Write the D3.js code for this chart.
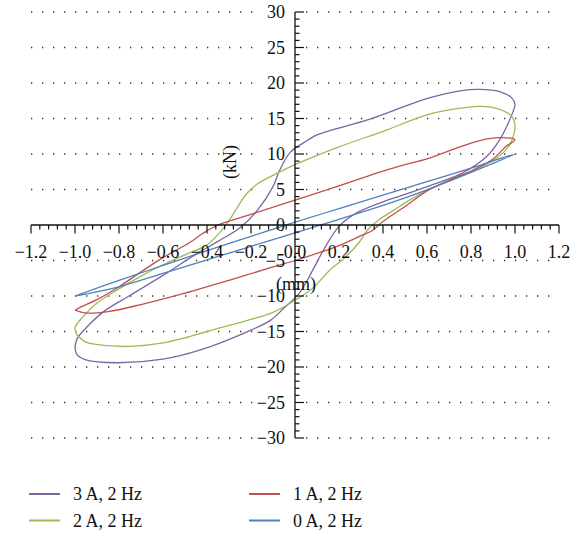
<!DOCTYPE html>
<html><head><meta charset="utf-8">
<script src="https://cdn.jsdelivr.net/npm/d3@7"></script>
<style>body{margin:0;background:#fff}svg{display:block}text{font-family:"Liberation Serif","DejaVu Serif",serif;fill:#111}</style>
</head><body><svg id="c" width="572" height="535"></svg>
<script>
// ---- data (displacement mm, force kN) ----
const seriesNames = ["3 A, 2 Hz", "2 A, 2 Hz", "1 A, 2 Hz", "0 A, 2 Hz"];
const seriesColors = ["#8064a2", "#9bbb59", "#c0504d", "#4f81bd"];
const loop3A = [[-1.0,-17.2],[-0.99,-16],[-0.95,-14.5],[-0.87,-12.2],[-0.76,-10.1],[-0.6,-7.1],[-0.45,-4.1],[-0.35,-2.3],[-0.25,-0.4],[-0.17,2.1],[-0.1,5.4],[-0.07,7.7],[-0.02,10.3],[0.04,11.6],[0.1,12.7],[0.17,13.4],[0.33,14.8],[0.48,16.5],[0.61,17.9],[0.75,18.9],[0.84,19.1],[0.93,18.8],[0.985,17.9],[1.0,17.0],[0.99,15.9],[0.97,14.4],[0.93,12],[0.87,9.6],[0.76,7.3],[0.6,5.4],[0.5,4.3],[0.42,3.5],[0.28,1.7],[0.2,-0.2],[0.13,-3.5],[0.08,-6.4],[0.02,-9.6],[-0.05,-11.7],[-0.11,-13.4],[-0.2,-14.8],[-0.43,-17.6],[-0.6,-18.9],[-0.81,-19.4],[-0.95,-19.0],[-0.99,-18.3],[-1.0,-17.2]];
const loop2A = [[-0.99,-15.5],[-1.0,-14.5],[-0.96,-12.8],[-0.9,-11.0],[-0.8,-9.0],[-0.7,-7.2],[-0.6,-5.6],[-0.5,-4.2],[-0.4,-2.8],[-0.34,-1.0],[-0.3,0.6],[-0.26,2.6],[-0.22,4.4],[-0.17,5.8],[-0.1,7.0],[0.0,8.5],[0.2,11.0],[0.4,13.2],[0.6,15.5],[0.7,16.2],[0.84,16.7],[0.93,16.3],[0.985,15.3],[1.0,14.1],[0.995,12.8],[0.98,11.5],[0.95,10.3],[0.9,9.1],[0.8,7.5],[0.7,6.2],[0.6,4.9],[0.52,3.5],[0.45,2.1],[0.38,0.7],[0.33,-0.7],[0.29,-2.5],[0.23,-4.5],[0.16,-6.3],[0.08,-8.9],[0.0,-10.6],[-0.1,-12.3],[-0.2,-13.3],[-0.4,-15.0],[-0.5,-15.9],[-0.6,-16.6],[-0.75,-17.1],[-0.85,-17.0],[-0.95,-16.5],[-0.99,-15.5]];
const loop1A = [[-1.0,-12.0],[-0.97,-11.5],[-0.9,-10.5],[-0.81,-8.9],[-0.7,-6.6],[-0.6,-4.6],[-0.48,-2.5],[-0.42,-1.2],[-0.35,0.0],[-0.2,1.5],[0.0,3.5],[0.2,5.5],[0.4,7.6],[0.5,8.5],[0.6,9.3],[0.75,11.0],[0.84,11.9],[0.93,12.3],[1.0,12.0],[0.96,11.1],[0.9,9.3],[0.8,7.6],[0.7,6.3],[0.6,4.8],[0.5,2.6],[0.4,0.5],[0.35,-0.8],[0.3,-1.5],[0.2,-2.9],[0.1,-4.0],[0.0,-5.0],[-0.1,-5.9],[-0.3,-7.8],[-0.5,-9.6],[-0.7,-11.2],[-0.85,-12.2],[-0.95,-12.4],[-1.0,-12.0]];
const loop0A = [[-1.0,-10.0],[-0.8,-7.8],[-0.6,-5.7],[-0.4,-3.6],[-0.2,-1.6],[0.0,0.4],[0.2,2.3],[0.4,4.2],[0.6,6.1],[0.8,8.0],[1.0,10.0],[0.8,7.4],[0.6,4.95],[0.4,2.75],[0.2,0.8],[0.0,-1.1],[-0.2,-3.0],[-0.4,-4.9],[-0.6,-6.8],[-0.8,-8.7],[-1.0,-10.0]];
const loops = [loop3A, loop2A, loop1A, loop0A];
const xTicks = [-1.2,-1.0,-0.8,-0.6,-0.4,-0.2,0.0,0.2,0.4,0.6,0.8,1.0,1.2];
const yTicks = [-30,-25,-20,-15,-10,-5,0,5,10,15,20,25,30];

const svg = d3.select("#c");
const x = d3.scaleLinear().domain([-1.2,1.2]).range([31,559]);
const y = d3.scaleLinear().domain([-30,30]).range([438,12]);
const fmtX = d => (d<0?"\u2212":"") + Math.abs(d).toFixed(1);
const fmtY = d => (d<0?"\u2212":"") + Math.abs(d);

// dotted grid
const gridG = svg.append("g");
yTicks.filter(d=>d!==0).forEach(d=>{
  [[x(-1.2), x(-0.16)], [x(0.05), x(1.2)]].forEach(([a,b])=>{
    gridG.append("line").attr("x1",a).attr("x2",b).attr("y1",y(d)).attr("y2",y(d))
      .attr("stroke","#333").attr("stroke-width",1.4).attr("stroke-dasharray","1.3 9.7");
  });
});

// curves
const line = d3.line().x(d=>x(d[0])).y(d=>y(d[1])).curve(d3.curveCatmullRom.alpha(0.5));
loops.forEach((lp,i)=>{
  svg.append("path").attr("d",line(lp)).attr("fill","none")
    .attr("stroke",seriesColors[i]).attr("stroke-width",1.3);
});

// x axis
const x0 = x(0), y0 = y(0);
const xa = svg.append("g").attr("stroke","#111");
xa.append("line").attr("x1",x(-1.2)).attr("x2",x(1.2)).attr("y1",y0).attr("y2",y0).attr("stroke-width",1.3);
d3.range(-30,31).forEach(k=>{
  const v = k*0.04, major = k%5===0;
  xa.append("line").attr("x1",x(v)).attr("x2",x(v)).attr("y1",y0).attr("y2",y0+(major?8.5:4.5)).attr("stroke-width",1.2);
});
svg.append("g").selectAll("text").data(xTicks).join("text")
  .attr("x",d=>x(d)).attr("y",258).attr("text-anchor","middle").attr("font-size",18).text(fmtX);

// y axis
const ya = svg.append("g").attr("stroke","#111");
ya.append("line").attr("x1",x0).attr("x2",x0).attr("y1",y(30)).attr("y2",y(-30)).attr("stroke-width",1.3);
d3.range(-30,31).forEach(v=>{
  const major = v%5===0;
  ya.append("line").attr("x1",x0).attr("x2",x0+(major?9:4.5)).attr("y1",y(v)).attr("y2",y(v)).attr("stroke-width",1.2);
});
svg.append("g").selectAll("text").data(yTicks).join("text")
  .attr("x",x0-10).attr("y",d=>y(d)+6).attr("text-anchor","end").attr("font-size",18).text(fmtY);

// axis titles
svg.append("text").attr("transform","translate(236,162) rotate(-90)").attr("text-anchor","middle").attr("font-size",18).text("(kN)");
svg.append("text").attr("x",296).attr("y",290).attr("text-anchor","middle").attr("font-size",18).text("(mm)");

// legend
const legPos = [[29,494],[29,520.5],[249,494],[249,520.5]];
const legOrder = [0,1,2,3];
legOrder.forEach((i,k)=>{
  const [lx,ly] = legPos[k];
  svg.append("line").attr("x1",lx).attr("x2",lx+31).attr("y1",ly).attr("y2",ly)
    .attr("stroke",seriesColors[i]).attr("stroke-width",2);
  svg.append("text").attr("x",lx+44).attr("y",ly+6).attr("font-size",18).text(seriesNames[i]);
});
</script></body></html>
